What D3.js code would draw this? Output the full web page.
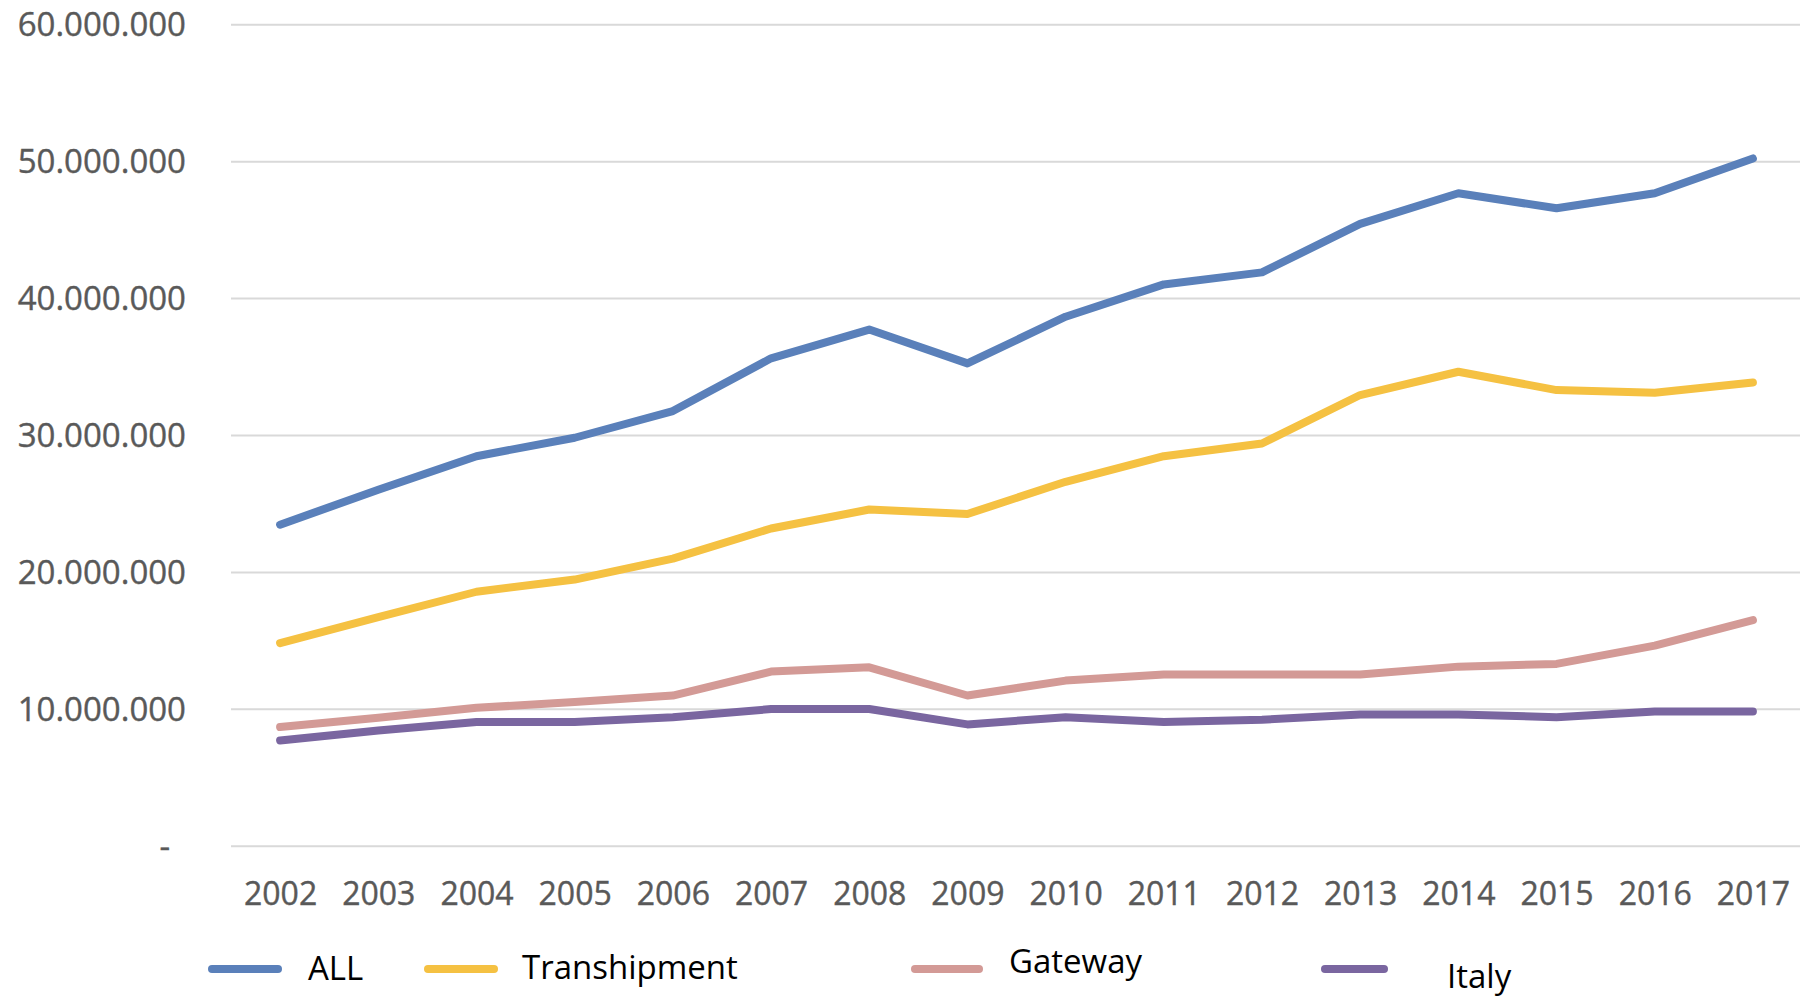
<!DOCTYPE html>
<html>
<head>
<meta charset="utf-8">
<script src="https://cdn.jsdelivr.net/npm/d3@7"></script>
<style>
  html, body { margin: 0; padding: 0; background: #fff; }
  svg { display: block; }
  text { font-family: "Open Sans", "DejaVu Sans", sans-serif; }
</style>
</head>
<body>
<svg id="chart" width="1800" height="997"></svg>
<script>
// Container throughput by year (TEU)
const years = ["2002","2003","2004","2005","2006","2007","2008","2009",
               "2010","2011","2012","2013","2014","2015","2016","2017"];

const allValues = [23450000, 26000000, 28450000, 29800000, 31750000, 35600000, 37700000, 35230000,
                   38640000, 41000000, 41880000, 45420000, 47660000, 46560000, 47660000, 50200000];
const transhipmentValues = [14800000, 16700000, 18550000, 19440000, 20970000, 23170000, 24560000, 24230000,
                   26580000, 28450000, 29380000, 32920000, 34620000, 33280000, 33090000, 33840000];
const gatewayValues = [8670000, 9340000, 10070000, 10490000, 10970000, 12720000, 13030000, 10970000,
                   12060000, 12500000, 12500000, 12500000, 13080000, 13280000, 14610000, 16480000];
const italyValues = [7690000, 8420000, 9030000, 9030000, 9390000, 9980000, 9980000, 8860000,
                   9390000, 9030000, 9200000, 9590000, 9590000, 9390000, 9810000, 9810000];

const seriesNames = ["ALL", "Transhipment", "Gateway", "Italy"];
const yTicks = [0, 10000000, 20000000, 30000000, 40000000, 50000000, 60000000];

const series = [
  { name: seriesNames[0], values: allValues,          color: "#5a80ba" },
  { name: seriesNames[1], values: transhipmentValues, color: "#f5c142" },
  { name: seriesNames[2], values: gatewayValues,      color: "#d39a96" },
  { name: seriesNames[3], values: italyValues,        color: "#7a66a0" }
];

// Plot geometry
const plot = { left: 231, right: 1802, top: 24.3, bottom: 845.7 };

const svg = d3.select("#chart");

const x = d3.scalePoint().domain(years).range([plot.left, plot.right]).padding(0.5);
const y = d3.scaleLinear().domain([0, 60000000]).range([plot.bottom, plot.top]);

// Thousands separated by dots, zero shown as a dash
const fmt = d3.formatLocale({ decimal: ",", thousands: ".", grouping: [3], currency: ["", ""] }).format(",d");

// Horizontal gridlines and value labels
const yAxis = svg.append("g")
  .attr("transform", `translate(${plot.left},0)`)
  .call(d3.axisLeft(y)
    .tickValues(yTicks)
    .tickSizeInner(-(1800 - plot.left))
    .tickSizeOuter(0)
    .tickPadding(45)
    .tickFormat(d => d === 0 ? "-" : fmt(d)));
yAxis.select(".domain").remove();
yAxis.selectAll(".tick line").attr("stroke", "#d9d9d9").attr("stroke-width", 2);
yAxis.selectAll(".tick text")
  .attr("fill", "#595959")
  .attr("stroke", "#595959")
  .attr("stroke-width", 0.4)
  .attr("font-size", 33)
  .attr("dy", "0.35em")
  .attr("x", d => d === 0 ? -61 : -45);

// Year labels
const xAxis = svg.append("g")
  .attr("transform", `translate(0,${plot.bottom})`)
  .call(d3.axisBottom(x).tickSize(0).tickPadding(0));
xAxis.select(".domain").remove();
xAxis.selectAll(".tick text")
  .attr("fill", "#595959")
  .attr("stroke", "#595959")
  .attr("stroke-width", 0.4)
  .attr("font-size", 32)
  .attr("dy", 0)
  .attr("y", 59);

// Series lines
const line = d3.line()
  .x((d, i) => x(years[i]))
  .y(d => y(d));

svg.append("g").selectAll("path")
  .data(series)
  .join("path")
  .attr("d", s => line(s.values))
  .attr("fill", "none")
  .attr("stroke", s => s.color)
  .attr("stroke-width", 8)
  .attr("stroke-linejoin", "round")
  .attr("stroke-linecap", "round");

// Legend
const legendLayout = [
  { x1: 212, x2: 278, ly: 969, tx: 308, ty: 980 },
  { x1: 428, x2: 494, ly: 969, tx: 522, ty: 979 },
  { x1: 915, x2: 979, ly: 969, tx: 1009, ty: 973 },
  { x1: 1325, x2: 1384, ly: 969, tx: 1447, ty: 988 }
];

const legend = svg.append("g").selectAll("g")
  .data(series)
  .join("g");

legend.append("line")
  .attr("x1", (s, i) => legendLayout[i].x1)
  .attr("x2", (s, i) => legendLayout[i].x2)
  .attr("y1", (s, i) => legendLayout[i].ly)
  .attr("y2", (s, i) => legendLayout[i].ly)
  .attr("stroke", s => s.color)
  .attr("stroke-width", 8)
  .attr("stroke-linecap", "round");

legend.append("text")
  .attr("x", (s, i) => legendLayout[i].tx)
  .attr("y", (s, i) => legendLayout[i].ty)
  .attr("font-size", 33)
  .attr("fill", "#000")
  .text(s => s.name);
</script>
</body>
</html>
